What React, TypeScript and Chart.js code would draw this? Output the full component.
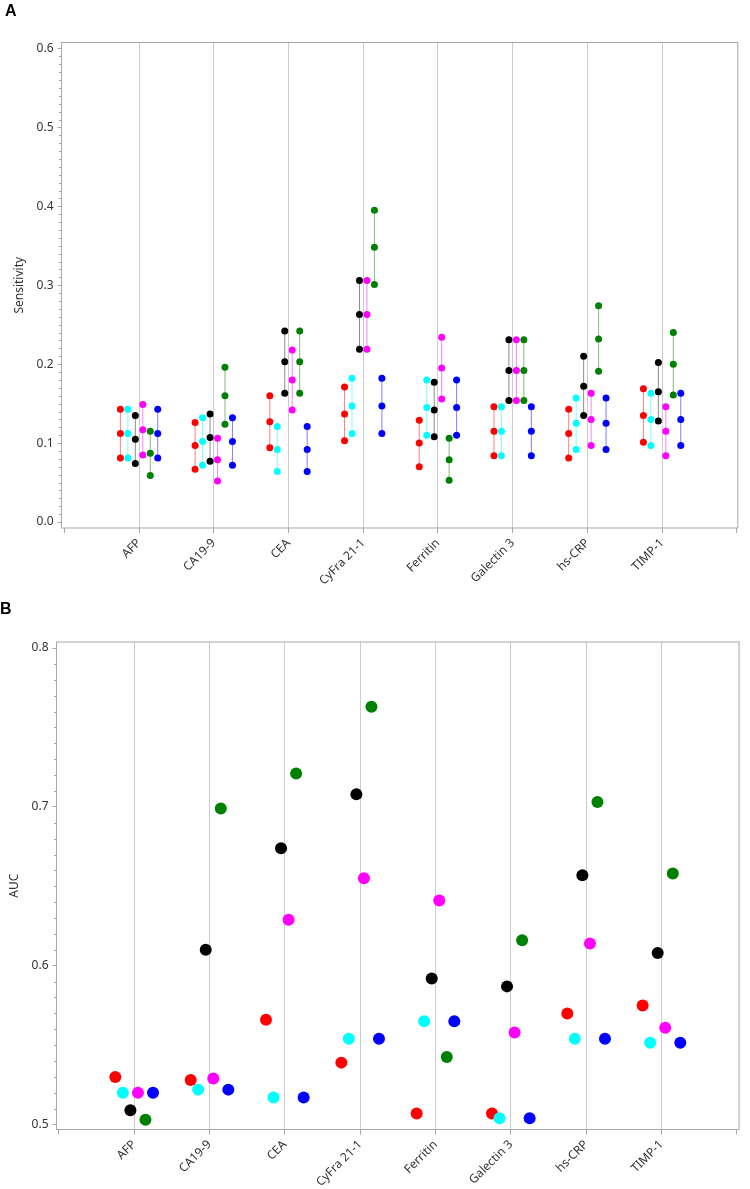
import React, { useEffect, useRef } from 'react';
import { Chart, registerables } from 'chart.js';

Chart.register(...registerables);

// ---------------- data ----------------
const categories = ['AFP', 'CA19-9', 'CEA', 'CyFra 21-1', 'Ferritin', 'Galectin 3', 'hs-CRP', 'TIMP-1'];

const sensTicks = [0, 0.1, 0.2, 0.3, 0.4, 0.5, 0.6];
const aucTicks = [0.5, 0.6, 0.7, 0.8];
const xTickValues = [0, 1, 2, 3, 4, 5, 6, 7, 8, 9];

// Sensitivity: [lower, estimate, upper] per category
const redSens = [[0.081, 0.112, 0.143], [0.067, 0.097, 0.126], [0.094, 0.127, 0.160], [0.103, 0.137, 0.171], [0.070, 0.100, 0.129], [0.084, 0.115, 0.146], [0.081, 0.112, 0.143], [0.101, 0.135, 0.169]];
const cyanSens = [[0.081, 0.112, 0.143], [0.072, 0.102, 0.132], [0.064, 0.092, 0.121], [0.112, 0.147, 0.182], [0.110, 0.145, 0.180], [0.084, 0.115, 0.146], [0.092, 0.125, 0.157], [0.097, 0.130, 0.163]];
const blackSens = [[0.074, 0.105, 0.135], [0.077, 0.107, 0.137], [0.163, 0.203, 0.242], [0.219, 0.263, 0.306], [0.108, 0.142, 0.177], [0.154, 0.192, 0.231], [0.135, 0.172, 0.210], [0.128, 0.165, 0.202]];
const magentaSens = [[0.085, 0.117, 0.149], [0.052, 0.079, 0.106], [0.142, 0.180, 0.218], [0.219, 0.263, 0.306], [0.156, 0.195, 0.234], [0.154, 0.192, 0.231], [0.097, 0.130, 0.163], [0.084, 0.115, 0.146]];
const greenSens = [[0.059, 0.087, 0.115], [0.124, 0.160, 0.196], [0.163, 0.203, 0.242], [0.301, 0.348, 0.395], [0.053, 0.079, 0.106], [0.154, 0.192, 0.231], [0.191, 0.232, 0.274], [0.161, 0.200, 0.240]];
const blueSens = [[0.081, 0.112, 0.143], [0.072, 0.102, 0.132], [0.064, 0.092, 0.121], [0.112, 0.147, 0.182], [0.110, 0.145, 0.180], [0.084, 0.115, 0.146], [0.092, 0.125, 0.157], [0.097, 0.130, 0.163]];

// AUC per category
const redAuc = [0.530, 0.528, 0.566, 0.539, 0.507, 0.507, 0.570, 0.575];
const cyanAuc = [0.520, 0.522, 0.517, 0.554, 0.565, 0.504, 0.554, 0.5515];
const blackAuc = [0.509, 0.610, 0.674, 0.708, 0.592, 0.587, 0.657, 0.608];
const magentaAuc = [0.520, 0.529, 0.629, 0.655, 0.641, 0.558, 0.614, 0.561];
const greenAuc = [0.503, 0.699, 0.721, 0.763, 0.5425, 0.616, 0.703, 0.658];
const blueAuc = [0.520, 0.522, 0.517, 0.554, 0.565, 0.504, 0.554, 0.5515];

// ---------------- styles ----------------
const dodge = [-0.25, -0.15, -0.05, 0.05, 0.15, 0.25];
const pointColors = ['#ff0000', '#00ffff', '#000000', '#ff00ff', '#008000', '#0000ff'];
const lineColors = ['rgba(255,0,0,0.5)', 'rgba(0,255,255,0.5)', 'rgba(0,0,0,0.45)', 'rgba(255,0,255,0.5)', 'rgba(0,128,0,0.5)', 'rgba(0,0,255,0.5)'];
const sensSeries = [redSens, cyanSens, blackSens, magentaSens, greenSens, blueSens];
const aucSeries = [redAuc, cyanAuc, blackAuc, magentaAuc, greenAuc, blueAuc];

const FONT = "'Noto Sans', 'Open Sans', 'DejaVu Sans', sans-serif";
const TEXT = '#333333';
const AXIS = '#a8a8a8';
const GRID = '#cccccc';

const frameMinorPlugin = {
  id: 'frameMinor',
  beforeDatasetsDraw(chart: any, _args: any, opts: any) {
    const { ctx, chartArea: a } = chart;
    const y = chart.scales.y;
    const step = opts.minorStep || 0.01;
    ctx.save();
    ctx.strokeStyle = AXIS;
    ctx.lineWidth = 1;
    ctx.beginPath();
    const i0 = Math.ceil(y.min / step);
    const i1 = Math.floor(y.max / step);
    for (let i = i0; i <= i1; i++) {
      if (i % 10 === 0) continue;
      const py = Math.round(y.getPixelForValue(i * step)) + 0.5;
      ctx.moveTo(a.left - 2.5, py);
      ctx.lineTo(a.left, py);
    }
    ctx.stroke();
    ctx.strokeRect(a.left, a.top, a.right - a.left, a.bottom - a.top);
    ctx.restore();
  },
};

function baseScales(opts: {
  xmin: number; xmax: number; ymin: number; ymax: number; yTicks: number[];
  yWidth: number; xHeight: number; title: string; titlePad: number;
}) {
  return {
    x: {
      type: 'linear',
      min: opts.xmin,
      max: opts.xmax,
      afterBuildTicks: (s: any) => { s.ticks = xTickValues.map((v) => ({ value: v })); },
      afterFit: (s: any) => { s.height = opts.xHeight; },
      ticks: {
        autoSkip: false,
        maxRotation: 45,
        minRotation: 45,
        padding: 3,
        color: TEXT,
        font: { family: FONT, size: 12 },
        callback: (v: any) => categories[Number(v) - 1] ?? '',
      },
      grid: {
        color: (c: any) => (c.tick && (c.tick.value === 0 || c.tick.value === 9) ? 'rgba(0,0,0,0)' : GRID),
        tickColor: AXIS,
        tickLength: 5,
        lineWidth: 1,
      },
      border: { display: false },
    },
    y: {
      type: 'linear',
      min: opts.ymin,
      max: opts.ymax,
      afterBuildTicks: (s: any) => { s.ticks = opts.yTicks.map((v) => ({ value: v })); },
      afterFit: (s: any) => { s.width = opts.yWidth; },
      ticks: {
        padding: 4,
        color: TEXT,
        font: { family: FONT, size: 12 },
        callback: (v: any) => Number(v).toFixed(1),
      },
      grid: { drawOnChartArea: false, tickLength: 4, color: AXIS },
      border: { display: false },
      title: {
        display: true,
        text: opts.title,
        color: TEXT,
        font: { family: FONT, size: 12 },
        padding: { top: opts.titlePad, bottom: 0 },
      },
    },
  };
}

function SensitivityChart() {
  const ref = useRef<HTMLCanvasElement | null>(null);
  useEffect(() => {
    if (!ref.current) return;
    const datasets = sensSeries.map((rows, si) => ({
      label: 'series' + si,
      data: rows.flatMap((row, ci) => {
        const x = ci + 1 + dodge[si];
        return [{ x, y: row[0] }, { x, y: row[1] }, { x, y: row[2] }, { x, y: null }];
      }),
      showLine: true,
      spanGaps: false,
      borderColor: lineColors[si],
      borderWidth: 1,
      pointBackgroundColor: pointColors[si],
      pointBorderColor: pointColors[si],
      pointBorderWidth: 0,
      pointRadius: 3.5,
      order: 6 - si,
    }));
    const chart = new Chart(ref.current, {
      type: 'scatter',
      data: { datasets } as any,
      options: {
        responsive: false,
        animation: false,
        layout: { padding: { top: 42.5, right: 1.5, left: 0, bottom: 0 } },
        plugins: { legend: { display: false }, tooltip: { enabled: false }, frameMinor: { minorStep: 0.01 } } as any,
        scales: baseScales({
          xmin: -0.038, xmax: 9.013, ymin: -0.0076, ymax: 0.6076, yTicks: sensTicks,
          yWidth: 61.5, xHeight: 72, title: 'Sensitivity', titlePad: 12,
        }) as any,
      },
      plugins: [frameMinorPlugin],
    });
    return () => chart.destroy();
  }, []);
  return <canvas ref={ref} width={750} height={600} style={{ display: 'block' }} />;
}

function AucChart() {
  const ref = useRef<HTMLCanvasElement | null>(null);
  useEffect(() => {
    if (!ref.current) return;
    const datasets = aucSeries.map((vals, si) => ({
      label: 'series' + si,
      data: vals.map((v, ci) => ({ x: ci + 1 + dodge[si], y: v })),
      showLine: false,
      pointBackgroundColor: pointColors[si],
      pointBorderColor: pointColors[si],
      pointBorderWidth: 0,
      pointRadius: 6,
      order: 6 - si,
    }));
    const chart = new Chart(ref.current, {
      type: 'scatter',
      data: { datasets } as any,
      options: {
        responsive: false,
        animation: false,
        layout: { padding: { top: 42, right: 1, left: 0, bottom: 0 } },
        plugins: { legend: { display: false }, tooltip: { enabled: false }, frameMinor: { minorStep: 0.01 } } as any,
        scales: baseScales({
          xmin: -0.031, xmax: 9.03, ymin: 0.4969, ymax: 0.8038, yTicks: aucTicks,
          yWidth: 56.5, xHeight: 59.5, title: 'AUC', titlePad: 7,
        }) as any,
      },
      plugins: [frameMinorPlugin],
    });
    return () => chart.destroy();
  }, []);
  return <canvas ref={ref} width={750} height={589} style={{ display: 'block' }} />;
}

export default function App() {
  const letter: React.CSSProperties = {
    position: 'absolute',
    fontFamily: "'Liberation Sans', Arial, sans-serif",
    fontWeight: 'bold',
    fontSize: 16,
    lineHeight: '16px',
    color: '#000',
  };
  return (
    <div style={{ position: 'absolute', left: 0, top: 0, width: 750, height: 1189, background: '#fff', overflow: 'hidden' }}>
      <div style={{ position: 'absolute', left: 0, top: 0 }}>
        <SensitivityChart />
      </div>
      <div style={{ position: 'absolute', left: 0, top: 600 }}>
        <AucChart />
      </div>
      <div style={{ ...letter, left: 5, top: 3 }}>A</div>
      <div style={{ ...letter, left: 0, top: 601 }}>B</div>
    </div>
  );
}
